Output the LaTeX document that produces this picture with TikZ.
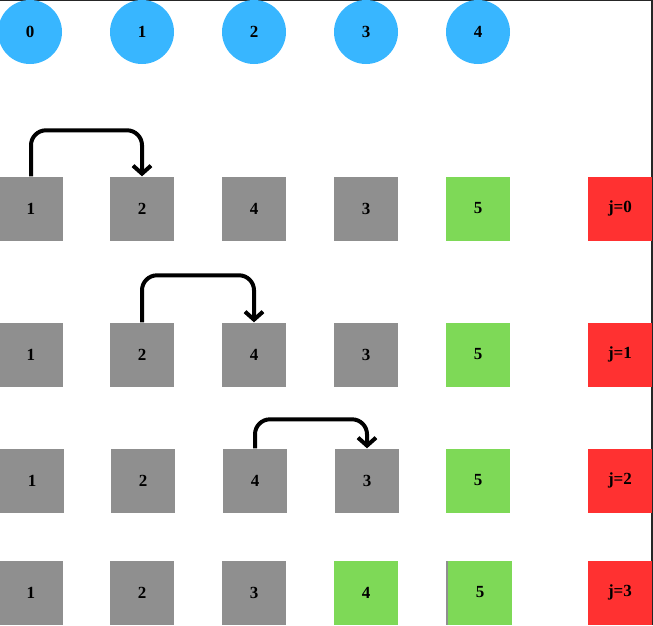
\documentclass[tikz,border=0pt]{standalone}
\usepackage{fontspec}
\setmainfont{Liberation Serif}
\usetikzlibrary{arrows.meta}
\definecolor{idxblue}{RGB}{56,182,255}
\definecolor{cellgrey}{RGB}{143,143,143}
\definecolor{cellgreen}{RGB}{126,217,87}
\definecolor{cellred}{RGB}{255,49,49}
\tikzset{
  idx/.style={shape=circle,fill=idxblue,minimum size=64pt,inner sep=0pt,font=\bfseries\fontsize{17}{17}\selectfont},
  cell/.style={shape=rectangle,fill=cellgrey,minimum size=64pt,inner sep=0pt,font=\bfseries\fontsize{17}{17}\selectfont},
  done/.style={cell,fill=cellgreen},
  pass/.style={cell,fill=cellred},
  swap/.style={line width=4pt,rounded corners=15pt,-{Straight Barb[length=8pt,width=18pt]}}
}
\begin{document}
\begin{tikzpicture}[x=1pt,y=-1pt]
\useasboundingbox (0,0) rectangle (653,625);
\draw[line width=1.5pt,black!85] (0,0) -- (652,0) -- (652,625);
% indices
\node[idx] (I0) at (30,32) {0};
\node[idx] (I1) at (142,32) {1};
\node[idx] (I2) at (254,32) {2};
\node[idx] (I3) at (366,32) {3};
\node[idx] (I4) at (478,32) {4};
% j=0
\node[cell] (A1) at (31,208.5) {1};
\node[cell] (A2) at (142,208.5) {2};
\node[cell] (A3) at (254,208.5) {4};
\node[cell] (A4) at (366,208.5) {3};
\node[done] (A5) at (478,208.5) {5};
\node[pass] (AJ) at (620,208.5) {j=0};
% j=1
\node[cell] (B1) at (31,354.5) {1};
\node[cell] (B2) at (142,354.5) {2};
\node[cell] (B3) at (254,354.5) {4};
\node[cell] (B4) at (366,354.5) {3};
\node[done] (B5) at (478,354.5) {5};
\node[pass] (BJ) at (620,354.5) {j=1};
% j=2
\node[cell] (C1) at (32,480.5) {1};
\node[cell] (C2) at (143,480.5) {2};
\node[cell] (C3) at (255,480.5) {4};
\node[cell] (C4) at (367,480.5) {3};
\node[done] (C5) at (478,480.5) {5};
\node[pass] (CJ) at (620,480.5) {j=2};
% j=3
\node[cell] (D1) at (31,592.5) {1};
\node[cell] (D2) at (142,592.5) {2};
\node[cell] (D3) at (254,592.5) {3};
\node[done] (D4) at (366,592.5) {4};
\node[cell] (D0) at (478,592.5) {};
\node[done] (D5) at (480,592.5) {5};
\node[pass] (DJ) at (620,592.5) {j=3};
% swaps
\draw[swap] (A1.north) -- ++(0,-46) -| (A2.north);
\draw[swap] (B2.north) -- ++(0,-47) -| (B3.north);
\draw[swap] (C3.north) -- ++(0,-29) -| (C4.north);
\end{tikzpicture}
\end{document}
